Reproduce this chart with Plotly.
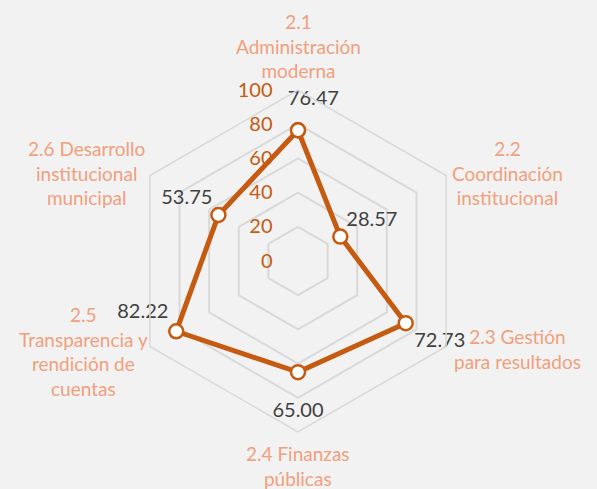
import plotly.graph_objects as go

categories = [
    "2.1<br>Administración<br>moderna",
    "2.2<br>Coordinación<br>institucional",
    "2.3 Gestión<br>para resultados",
    "2.4 Finanzas<br>públicas",
    "2.5<br>Transparencia y<br>rendición de<br>cuentas",
    "2.6 Desarrollo<br>institucional<br>municipal",
]
values = [76.47, 28.57, 72.73, 65.00, 82.22, 53.75]
value_labels = ["\u00a0\u00a0\u00a0\u00a0\u00a0\u00a076.47", "28.57", "72.73", "65.00", "82.22", "53.75"]
label_positions = ["top center", "top right", "bottom right", "bottom center", "top left", "top left"]
label_offsets = [30, 8, 12, 46, 11, 8]
radial_ticks = [0, 20, 40, 60, 80, 100]
# category label placement (pixels from top-left)
cat_label_x = [298, 507, 517, 298, 83, 86]
cat_label_y = [46, 173, 349, 466, 351, 173]

LINE = "#C55A11"
CAT = "#F0A07C"
GRID = "#D9D9D9"
BG = "#F2F2F2"
FONT = "Lato"
W, H = 597, 489

fig = go.Figure()
fig.add_trace(go.Scatterpolar(
    r=values + values[:1],
    theta=categories + categories[:1],
    mode="lines+markers",
    line=dict(color=LINE, width=5),
    marker=dict(size=14, color="white", line=dict(color=LINE, width=2.5)),
    hoverinfo="skip",
    showlegend=False,
))
fig.add_trace(go.Scatterpolar(
    r=values,
    theta=categories,
    mode="markers+text",
    marker=dict(size=label_offsets, opacity=0),
    text=value_labels,
    textposition=label_positions,
    textfont=dict(family=FONT, size=20, color="#404040"),
    hoverinfo="skip",
    showlegend=False,
))

for name, cx, cy in zip(categories, cat_label_x, cat_label_y):
    fig.add_annotation(
        text=name, xref="paper", yref="paper",
        x=cx / W, y=1 - cy / H, xanchor="center", yanchor="middle",
        align="center", showarrow=False,
        font=dict(family=FONT, size=19, color=CAT),
    )

fig.update_layout(
    width=W, height=H,
    margin=dict(l=0, r=0, t=0, b=0),
    paper_bgcolor=BG,
    plot_bgcolor=BG,
    font=dict(family=FONT),
    polar=dict(
        bgcolor=BG,
        domain=dict(x=[127/W, 469/W], y=[57/H, 399/H]),
        gridshape="linear",
        radialaxis=dict(
            range=[0, 100],
            tickvals=radial_ticks,
            angle=90,
            side="counterclockwise",
            tickangle=90,
            showline=False,
            ticks="outside",
            ticklen=18,
            tickcolor="rgba(0,0,0,0)",
            gridcolor=GRID,
            gridwidth=1.5,
            tickfont=dict(family=FONT, size=20, color=LINE),
        ),
        angularaxis=dict(
            rotation=90,
            direction="clockwise",
            showgrid=False,
            showline=True,
            linecolor=GRID,
            linewidth=1.5,
            ticks="",
            showticklabels=False,
        ),
    ),
)

fig.write_html(
    "out.html",
    config={"displayModeBar": False},
    post_script="document.body.style.margin='0';document.body.style.background='#F2F2F2';",
)
